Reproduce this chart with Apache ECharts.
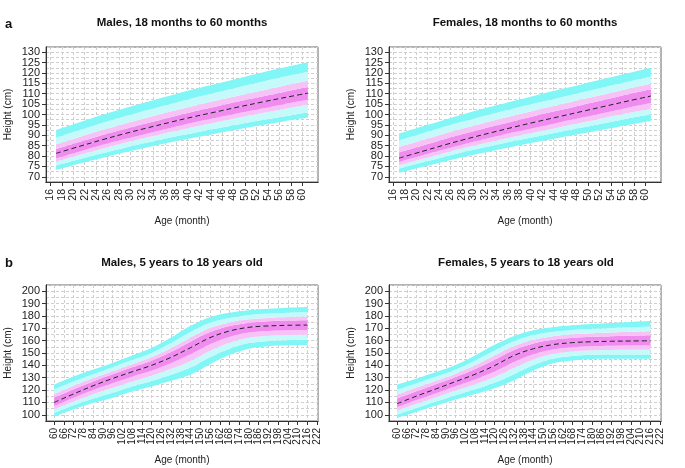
<!DOCTYPE html>
<html><head><meta charset="utf-8">
<script src="https://cdn.jsdelivr.net/npm/echarts@6/dist/echarts.min.js"></script>
<style>html,body{margin:0;padding:0;background:#fff}#c{width:685px;height:468px}</style>
</head><body><div id="c"></div>
<script>
// ---------- Panel a: 18 to 60 months ----------
const ageA = [17,21,25,29,33,37,41,45,49,53,57,61];
const maleA_M  = [81.3,84.6,87.8,90.8,93.6,96.3,98.9,101.3,103.7,106.0,108.2,110.3];
const maleA_U4 = [92.5,96.1,99.7,103.0,106.1,109.1,112.1,114.8,117.5,120.2,122.7,125.1];
const maleA_U3 = [88.9,92.4,95.9,99.1,102.2,105.1,108.0,110.6,113.3,115.8,118.3,120.6];
const maleA_U2 = [85.7,89.1,92.5,95.6,98.5,101.4,104.1,106.7,109.2,111.6,114.0,116.2];
const maleA_U1 = [83.3,86.7,90.0,93.0,95.9,98.7,101.4,103.9,106.4,108.7,111.0,113.2];
const maleA_L1 = [78.9,82.1,85.3,88.2,90.9,93.5,96.1,98.4,100.7,102.9,105.1,107.1];
const maleA_L2 = [77.3,80.5,83.5,86.4,89.0,91.6,94.0,96.3,98.5,100.7,102.8,104.7];
const maleA_L3 = [75.4,78.4,81.3,84.0,86.5,88.9,91.1,93.2,95.3,97.3,99.2,101.0];
const maleA_L4 = [73.3,76.3,79.1,81.8,84.2,86.6,88.8,90.9,92.9,94.9,96.8,98.5];

const femaleA_M  = [79.0,82.2,85.4,88.4,91.2,93.9,96.5,99.0,101.5,104.0,106.5,108.9];
const femaleA_U4 = [90.8,94.2,97.5,100.7,103.7,106.5,109.3,112.0,114.6,117.3,119.9,122.5];
const femaleA_U3 = [87.6,90.9,94.2,97.2,100.1,102.9,105.5,108.1,110.7,113.3,115.8,118.3];
const femaleA_U2 = [84.4,87.6,90.9,93.9,96.8,99.5,102.2,104.7,107.3,109.8,112.4,114.8];
const femaleA_U1 = [81.7,84.9,88.2,91.2,94.1,96.8,99.5,102.0,104.6,107.1,109.7,112.1];
const femaleA_L1 = [77.2,80.3,83.3,86.2,88.8,91.4,93.8,96.2,98.5,100.9,103.3,105.5];
const femaleA_L2 = [75.6,78.6,81.5,84.3,86.8,89.3,91.6,93.9,96.1,98.4,100.7,102.8];
const femaleA_L3 = [74.0,76.9,79.7,82.4,84.8,87.2,89.4,91.6,93.7,95.9,98.1,100.1];
const femaleA_L4 = [71.9,74.7,77.4,80.0,82.3,84.6,86.7,88.8,90.8,92.9,95.0,96.9];

// ---------- Panel b: 5 to 18 years ----------
const ageB = [60,72,84,96,108,120,132,144,156,168,180,192,204,216];
const maleB_M  = [110.0,116.9,123.5,129.4,134.8,140.0,146.5,154.3,162.4,167.8,170.8,171.9,172.4,172.6];
const maleB_U4 = [124.4,131.0,136.6,142.0,148.0,154.0,162.5,172.0,179.0,182.5,184.5,185.8,186.6,187.2];
const maleB_U3 = [120.4,127.1,132.9,138.5,144.3,150.1,158.0,167.0,174.4,178.4,180.7,181.9,182.6,183.1];
const maleB_U2 = [116.8,123.5,129.7,135.3,141.0,146.6,154.0,162.6,170.2,174.7,177.2,178.4,179.1,179.5];
const maleB_U1 = [113.9,120.7,127.0,132.8,138.4,143.8,150.8,159.1,166.9,171.8,174.5,175.7,176.2,176.5];
const maleB_L1 = [107.1,113.8,120.0,125.5,130.8,135.8,141.8,148.9,157.1,163.0,166.5,167.8,168.4,168.6];
const maleB_L2 = [104.4,110.8,116.6,121.8,127.0,131.7,137.2,143.6,151.9,158.3,162.3,163.9,164.5,164.7];
const maleB_L3 = [101.5,107.7,113.1,117.9,123.0,127.4,132.4,138.2,146.6,153.5,158.0,159.8,160.4,160.7];
const maleB_L4 = [98.5,104.5,109.5,113.9,118.8,123.0,127.5,132.5,141.0,148.5,153.5,155.5,156.2,156.5];

const femaleB_M  = [109.0,115.2,121.0,126.9,132.8,139.8,148.0,153.5,156.8,158.4,159.1,159.5,159.7,159.9];
const femaleB_U4 = [124.3,129.3,134.6,140.2,148.0,156.6,163.8,168.5,170.9,172.4,173.5,174.3,175.1,175.8];
const femaleB_U3 = [120.2,125.5,130.9,136.6,143.9,152.1,159.5,164.5,167.1,168.6,169.6,170.3,170.9,171.5];
const femaleB_U2 = [116.3,122.0,127.5,133.3,140.1,147.9,155.6,160.7,163.6,165.1,166.0,166.6,167.1,167.5];
const femaleB_U1 = [113.3,119.1,124.8,130.6,137.1,144.5,152.4,157.7,160.7,162.3,163.1,163.6,164.0,164.4];
const femaleB_L1 = [106.0,111.9,117.5,123.1,128.6,135.0,142.8,149.0,152.9,154.7,155.5,155.8,156.0,156.1];
const femaleB_L2 = [103.3,108.9,114.3,119.6,124.8,130.6,138.0,144.8,149.3,151.2,152.2,152.5,152.6,152.6];
const femaleB_L3 = [100.3,105.6,110.7,115.8,120.6,125.9,132.8,140.2,145.4,147.5,148.5,148.8,148.8,148.8];
const femaleB_L4 = [97.5,102.5,107.5,112.3,116.8,121.5,128.0,136.0,141.8,144.0,145.2,145.4,145.4,145.3];

// ---------- Tick labels ----------
const xTicksA = [16,18,20,22,24,26,28,30,32,34,36,38,40,42,44,46,48,50,52,54,56,58,60];
const xTicksB = [60,66,72,78,84,90,96,102,108,114,120,126,132,138,144,150,156,162,168,174,180,186,192,198,204,210,216,222];
const yTicksA = [70,75,80,85,90,95,100,105,110,115,120,125,130];
const yTicksB = [100,110,120,130,140,150,160,170,180,190,200];

const titles = ['Males, 18 months to 60 months','Females, 18 months to 60 months',
                'Males, 5 years to 18 years old','Females, 5 years to 18 years old'];
const xName = 'Age (month)';
const yName = 'Height (cm)';

// ---------- build ----------
const FONT = '"Liberation Sans", Arial, Helvetica, sans-serif';
const C_DC = '#80f6f6', C_LC = '#c6fafa', C_LP = '#f7c2f5', C_PK = '#f08cf0';

const panels = [
  {age:ageA, L4:maleA_L4,L3:maleA_L3,L2:maleA_L2,L1:maleA_L1,M:maleA_M,U1:maleA_U1,U2:maleA_U2,U3:maleA_U3,U4:maleA_U4,
   grid:{left:46,top:47,width:272,height:135}, xmin:15.24,xmax:62.76,xt:xTicksA, xfs:10.5, ymin:67.5,ymax:132.5,ystep:2.5,yt:yTicksA, tx:182,ty:23},
  {age:ageA, L4:femaleA_L4,L3:femaleA_L3,L2:femaleA_L2,L1:femaleA_L1,M:femaleA_M,U1:femaleA_U1,U2:femaleA_U2,U3:femaleA_U3,U4:femaleA_U4,
   grid:{left:389,top:47,width:272,height:135}, xmin:15.24,xmax:62.76,xt:xTicksA, xfs:10.5, ymin:67.5,ymax:132.5,ystep:2.5,yt:yTicksA, tx:525,ty:23},
  {age:ageB, L4:maleB_L4,L3:maleB_L3,L2:maleB_L2,L1:maleB_L1,M:maleB_M,U1:maleB_U1,U2:maleB_U2,U3:maleB_U3,U4:maleB_U4,
   grid:{left:46,top:285,width:272,height:136}, xmin:55,xmax:222.5,xt:xTicksB, xfs:10, ymin:95,ymax:205,ystep:5,yt:yTicksB, tx:182,ty:263},
  {age:ageB, L4:femaleB_L4,L3:femaleB_L3,L2:femaleB_L2,L1:femaleB_L1,M:femaleB_M,U1:femaleB_U1,U2:femaleB_U2,U3:femaleB_U3,U4:femaleB_U4,
   grid:{left:389,top:285,width:272,height:136}, xmin:55,xmax:222.5,xt:xTicksB, xfs:10, ymin:95,ymax:205,ystep:5,yt:yTicksB, tx:526,ty:263}
];

const grids=[], xAxes=[], yAxes=[], series=[], graphics=[];
const gridLine = {show:true, lineStyle:{color:'#cfcfcf', type:[3,2], width:1}};
const even = arr => arr.filter((v,k)=>k%2===0);
const odd  = arr => arr.filter((v,k)=>k%2===1);

panels.forEach((p,i)=>{
  grids.push(Object.assign({show:true, borderColor:'#666', borderWidth:1, backgroundColor:'#fff'}, p.grid));
  // two x axes on the same place: alternating tick labels so none get auto-hidden
  [even(p.xt), odd(p.xt)].forEach((vals,j)=>{
    xAxes.push({type:'value', gridIndex:i, position:'bottom', offset:0, min:p.xmin, max:p.xmax,
      name: j===0 ? xName : '', nameLocation:'middle', nameGap:34,
      nameTextStyle:{fontFamily:FONT, fontSize:10, color:'#222'},
      axisLine:{show:true, onZero:false, lineStyle:{color:'#333'}},
      axisTick:{show:true, length:4, customValues:vals, lineStyle:{color:'#333'}},
      axisLabel:{customValues:vals, rotate:90, margin:7, fontFamily:FONT, fontSize:p.xfs, color:'#222'},
      splitLine:gridLine});
  });
  // hidden y axis used only for the fine horizontal grid
  yAxes.push({type:'value', gridIndex:i, position:'left', offset:0, min:p.ymin, max:p.ymax, interval:p.ystep,
    axisLine:{show:false}, axisTick:{show:false}, axisLabel:{show:false}, splitLine:gridLine});
  [even(p.yt), odd(p.yt)].forEach((vals,j)=>{
    yAxes.push({type:'value', gridIndex:i, position:'left', offset:0, min:p.ymin, max:p.ymax,
      name: j===0 ? yName : '', nameLocation:'middle', nameGap:33,
      nameTextStyle:{fontFamily:FONT, fontSize:10, color:'#222'},
      axisLine:{show:true, onZero:false, lineStyle:{color:'#333'}},
      axisTick:{show:true, length:4, customValues:vals, lineStyle:{color:'#333'}},
      axisLabel:{customValues:vals, margin:6, fontFamily:FONT, fontSize:11, color:'#222'},
      splitLine:{show:false}});
  });
  const xi = 2*i, yi = 3*i+1;
  const stack = 'band'+i;
  // data stored as [height, age] so that the stacked (first) dimension is the height
  const base = {type:'line', xAxisIndex:xi, yAxisIndex:yi, stack:stack, symbol:'none', smooth:0.35,
                encode:{x:1, y:0}, silent:true, lineStyle:{width:0, opacity:0}};
  series.push(Object.assign({}, base, {data:p.age.map((a,k)=>[p.L4[k], a])}));
  const layers = [[p.L4,p.L3,C_DC],[p.L3,p.L2,C_LC],[p.L2,p.L1,C_LP],[p.L1,p.M,C_PK],
                  [p.M,p.U1,C_PK],[p.U1,p.U2,C_LP],[p.U2,p.U3,C_LC],[p.U3,p.U4,C_DC]];
  layers.forEach(([lo,hi,col])=>{
    series.push(Object.assign({}, base, {
      data:p.age.map((a,k)=>[+(hi[k]-lo[k]).toFixed(3), a]),
      areaStyle:{color:col, opacity:1}}));
  });
  series.push({type:'line', xAxisIndex:xi, yAxisIndex:yi, symbol:'none', smooth:0.35, silent:true,
    data:p.age.map((a,k)=>[a,p.M[k]]), lineStyle:{color:'#222', width:1, type:[5,3]}, z:5});
  graphics.push({type:'text', x:p.tx, y:p.ty, style:{text:titles[i], font:'bold 11.5px '+FONT,
     textAlign:'center', textVerticalAlign:'middle', fill:'#111'}});
});
graphics.push({type:'text', x:5, y:24, style:{text:'a', font:'bold 13px '+FONT, textAlign:'left', textVerticalAlign:'middle', fill:'#111'}});
graphics.push({type:'text', x:5, y:263, style:{text:'b', font:'bold 13px '+FONT, textAlign:'left', textVerticalAlign:'middle', fill:'#111'}});

const chart = echarts.init(document.getElementById('c'));
chart.setOption({animation:false, backgroundColor:'#fff', grid:grids, xAxis:xAxes, yAxis:yAxes, series:series, graphic:graphics});
</script></body></html>
